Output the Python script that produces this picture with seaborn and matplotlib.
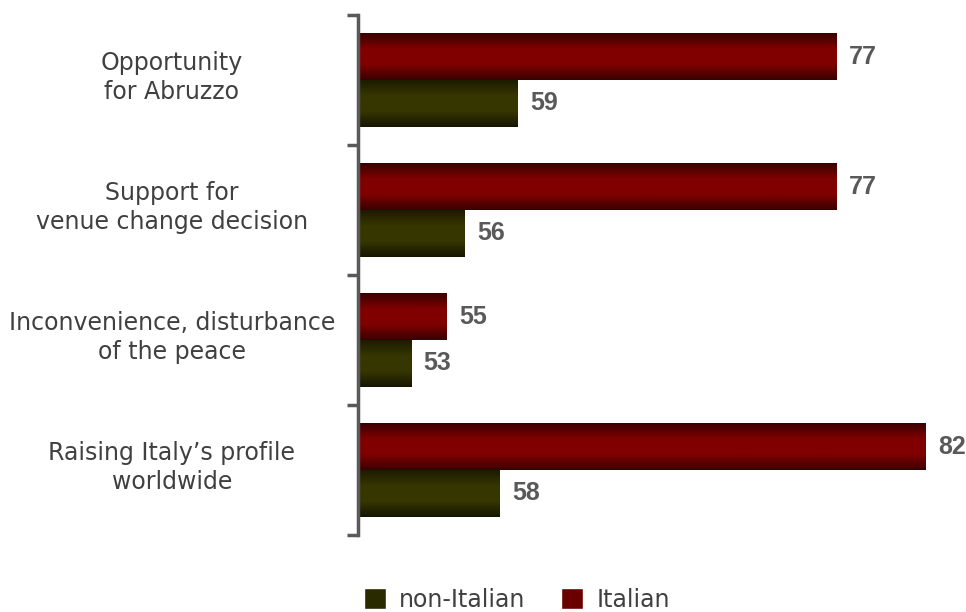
import numpy as np
import pandas as pd
import seaborn as sns
import matplotlib.pyplot as plt
from matplotlib.colors import LinearSegmentedColormap
from matplotlib.patches import Patch

# Data
categories = ['Opportunity\nfor Abruzzo',
              'Support for\nvenue change decision',
              'Inconvenience, disturbance\nof the peace',
              'Raising Italy\u2019s profile\nworldwide']
italian = [77, 77, 55, 82]
non_italian = [59, 56, 53, 58]
groups = ['Italian', 'non-Italian']

df = pd.DataFrame({
    'category': categories * 2,
    'value': italian + non_italian,
    'group': ['Italian'] * 4 + ['non-Italian'] * 4,
})

sns.set_style('white')
plt.rcParams['font.family'] = ['DejaVu Sans']

fig = plt.figure(figsize=(9.66, 6.12), dpi=100)
ax = fig.add_axes([358 / 966, 1 - 535 / 612, 587 / 966, 520 / 612])

x_min, x_max = 50, 83.1

palette = {'Italian': '#7a0000', 'non-Italian': '#303000'}
sns.barplot(data=df, y='category', x='value', hue='group', hue_order=groups,
            palette=palette, orient='h', width=0.72, ax=ax, legend=False,
            saturation=1)

# vertical gradient on every bar (dark edges, brighter middle)
grad = {
    'Italian': LinearSegmentedColormap.from_list('r', ['#3a0000', '#800000', '#800000', '#3a0000']),
    'non-Italian': LinearSegmentedColormap.from_list('g', ['#1c1c00', '#363600', '#363600', '#161600']),
}
ramp = np.linspace(0, 1, 64).reshape(-1, 1)
for cont, g in zip(ax.containers, groups):
    for bar in cont:
        y0, h = bar.get_y(), bar.get_height()
        x1 = bar.get_x() + bar.get_width()
        ax.imshow(ramp, cmap=grad[g], aspect='auto',
                  extent=(x_min, x1, y0 + h, y0), zorder=bar.get_zorder() + 0.1)
        bar.set_edgecolor('none')
    ax.bar_label(cont, padding=9, fontsize=18, fontweight='bold', color='#595959',
                 family=['Liberation Sans', 'DejaVu Sans'])

ax.set_xlim(x_min, x_max)
ax.set_ylim(3.5, -0.5)
ax.set_xlabel('')
ax.set_ylabel('')
ax.set_xticks([])

# category labels centered to the left of the axis
ax.set_yticks([])
ax.set_yticks([-0.5, 0.5, 1.5, 2.5, 3.5], minor=True)
ax.tick_params(axis='y', which='minor', length=8, width=2.5, color='#595959', left=True)
for i, cat in enumerate(categories):
    ax.text(-0.317, i - 0.02, cat, transform=ax.get_yaxis_transform(), ha='center', va='center',
            fontsize=17, color='#404040', linespacing=1.25)

for s in ['top', 'right', 'bottom']:
    ax.spines[s].set_visible(False)
ax.spines['left'].set_color('#595959')
ax.spines['left'].set_linewidth(2.5)

handles = [Patch(facecolor='#2a2a00', label='non-Italian'),
           Patch(facecolor='#6a0000', label='Italian')]
fig.legend(handles=handles, loc='center', bbox_to_anchor=(0.535, 0.02), ncol=2,
           frameon=False, fontsize=17, handlelength=0.95, handleheight=0.95,
           columnspacing=1.5, handletextpad=0.55, labelcolor='#404040')

fig.savefig('out.png', dpi=100)
